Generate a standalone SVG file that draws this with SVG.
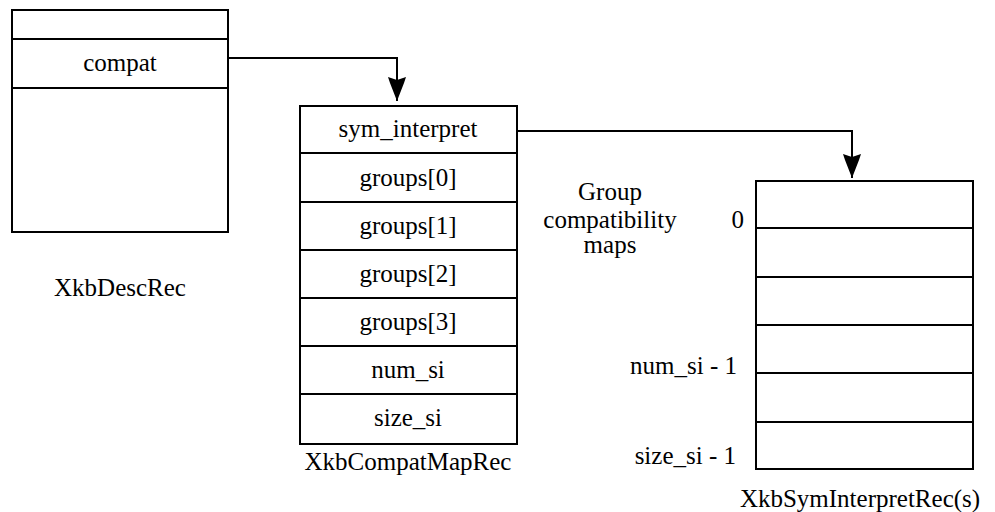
<svg xmlns="http://www.w3.org/2000/svg" width="995" height="512" viewBox="0 0 995 512">
<style>
.box{fill:#fff;stroke:#000;stroke-width:2}
.sep{stroke:#000;stroke-width:2}
.t{font-size:25px;fill:#000}
.c{text-anchor:middle}
.r{text-anchor:end}
.conn{fill:none;stroke:#000;stroke-width:2}
</style>
<defs>
<marker id="ah" markerUnits="userSpaceOnUse" markerWidth="26" markerHeight="20" viewBox="0 0 26 20" refX="24" refY="10" orient="auto">
<path d="M0,1 L6,3 L24,10 L6,17 L0,19 L3,10 Z" fill="#000"/>
</marker>
</defs>
<rect width="995" height="512" fill="#fff"/>
<g id="connectors">
<path class="conn" d="M228,58 H397 V101" marker-end="url(#ah)"/>
<path class="conn" d="M517,131 H852 V178" marker-end="url(#ah)"/>
</g>
<g font-family="'Liberation Serif', 'DejaVu Serif', 'Times New Roman', serif">
<g id="XkbDescRec">
<rect class="box" x="12" y="10" width="216" height="222"/>
<line class="sep" x1="12" y1="39" x2="228" y2="39"/>
<line class="sep" x1="12" y1="88" x2="228" y2="88"/>
<text class="t c" x="120" y="71">compat</text>
<text class="t c" x="120" y="296">XkbDescRec</text>
</g>
<g id="XkbCompatMapRec">
<rect class="box" x="300" y="106" width="217" height="338"/>
<line class="sep" x1="300" y1="153" x2="517" y2="153"/>
<line class="sep" x1="300" y1="202" x2="517" y2="202"/>
<line class="sep" x1="300" y1="250" x2="517" y2="250"/>
<line class="sep" x1="300" y1="298" x2="517" y2="298"/>
<line class="sep" x1="300" y1="346" x2="517" y2="346"/>
<line class="sep" x1="300" y1="394" x2="517" y2="394"/>
<text class="t c" x="408" y="137">sym_interpret</text>
<text class="t c" x="408" y="186">groups[0]</text>
<text class="t c" x="408" y="234">groups[1]</text>
<text class="t c" x="408" y="282">groups[2]</text>
<text class="t c" x="408" y="330">groups[3]</text>
<text class="t c" x="408" y="378">num_si</text>
<text class="t c" x="408" y="426">size_si</text>
<text class="t c" x="408" y="470">XkbCompatMapRec</text>
</g>
<g id="groupLabel">
<text class="t c" x="610" y="200">Group</text>
<text class="t c" x="610" y="228">compatibility</text>
<text class="t c" x="610" y="253">maps</text>
</g>
<g id="XkbSymInterpretRec">
<rect class="box" x="756" y="181" width="217" height="288"/>
<line class="sep" x1="756" y1="228" x2="973" y2="228"/>
<line class="sep" x1="756" y1="277" x2="973" y2="277"/>
<line class="sep" x1="756" y1="325" x2="973" y2="325"/>
<line class="sep" x1="756" y1="373" x2="973" y2="373"/>
<line class="sep" x1="756" y1="422" x2="973" y2="422"/>
<text class="t r" x="744" y="228">0</text>
<text class="t r" x="737" y="374">num_si - 1</text>
<text class="t r" x="736" y="464">size_si - 1</text>
<text class="t c" x="860" y="507">XkbSymInterpretRec(s)</text>
</g>
</g>
</svg>
